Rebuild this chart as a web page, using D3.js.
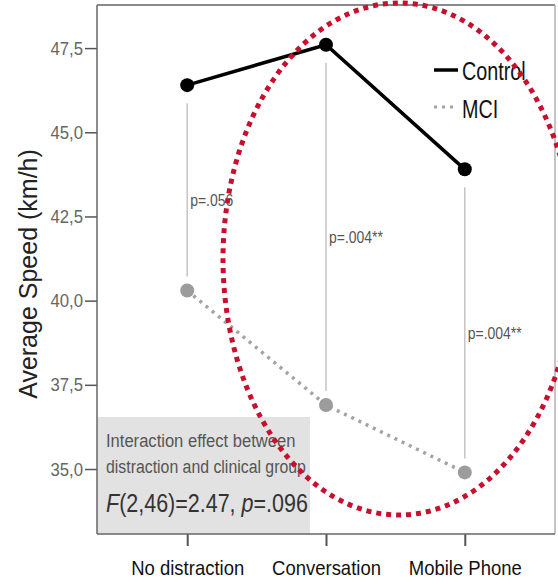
<!DOCTYPE html>
<html>
<head>
    <title>Average speed by distraction</title>
    <script src="https://cdnjs.cloudflare.com/ajax/libs/d3/7.8.5/d3.min.js"></script>
    <style>
        body { margin: 0; background: #fff; }
        text { font-family: "Liberation Sans", Arial, sans-serif; }
    </style>
</head>
<body>
    <div id="vis"></div>

    <script>
        // values
        var categories = ["No distraction", "Conversation", "Mobile Phone"];
        var control = [46.4, 47.6, 43.9];
        var mci = [40.3, 36.9, 34.9];
        var pLabels = ["p=.056", "p=.004**", "p=.004**"];
        var yTicks = [35, 37.5, 40, 42.5, 45, 47.5];
        var seriesNames = ["Control", "MCI"];

        var width = 558, height = 584;
        // plot box (don't call it "top", that's window.top)
        var m = { left: 97, right: 555, top: 5, bottom: 534 };

        var svg = d3.select("#vis").append("svg")
            .attr("width", width)
            .attr("height", height);

        var x = d3.scalePoint()
            .domain(categories)
            .range([m.left, m.right])
            .padding(0.65);

        var y = d3.scaleLinear()
            .domain([33.07, 48.78])
            .range([m.bottom, m.top]);

        // squeeze text horizontally to mimic the narrow font of the original
        function narrow(sel, k) {
            sel.each(function() {
                var w = this.getComputedTextLength();
                d3.select(this).attr("textLength", w * k).attr("lengthAdjust", "spacingAndGlyphs");
            });
        }

        // grey annotation box (behind everything)
        svg.append("rect")
            .attr("x", m.left)
            .attr("y", 417)
            .attr("width", 213)
            .attr("height", m.bottom - 417)
            .style("fill", "#e2e2e2");

        // frame top + right
        svg.append("line").attr("x1", m.left).attr("x2", m.right).attr("y1", m.top).attr("y2", m.top)
            .style("stroke", "#8a8a8a").style("stroke-width", 2);
        svg.append("line").attr("x1", m.right).attr("x2", m.right).attr("y1", m.top).attr("y2", m.bottom)
            .style("stroke", "#b0b0b0").style("stroke-width", 1.5);

        // y axis
        var yAxis = svg.append("g")
            .attr("transform", "translate(" + m.left + ",0)")
            .call(d3.axisLeft(y).tickValues(yTicks).tickSize(12).tickPadding(2)
                .tickFormat(function(d) { return d3.format(".1f")(d).replace(".", ","); }));
        yAxis.select(".domain").remove();
        yAxis.selectAll(".tick line").style("stroke", "#555").style("stroke-width", 1.5);
        yAxis.selectAll(".tick text").style("fill", "#666").style("font-size", "19px").call(narrow, 0.88);
        svg.append("line").attr("x1", m.left).attr("x2", m.left).attr("y1", m.top).attr("y2", m.bottom)
            .style("stroke", "#666").style("stroke-width", 1.5);

        // x axis
        var xAxis = svg.append("g")
            .attr("transform", "translate(0," + m.bottom + ")")
            .call(d3.axisBottom(x).tickSize(12).tickPadding(14));
        xAxis.select(".domain").remove();
        xAxis.selectAll(".tick line").style("stroke", "#555").style("stroke-width", 2);
        xAxis.selectAll(".tick text").style("fill", "#111").style("font-size", "21px").call(narrow, 0.88);
        svg.append("line").attr("x1", m.left).attr("x2", m.right).attr("y1", m.bottom).attr("y2", m.bottom)
            .style("stroke", "#666").style("stroke-width", 1.5);

        // y title
        svg.append("text")
            .attr("transform", "translate(37,274) rotate(-90)")
            .attr("text-anchor", "middle")
            .style("font-size", "25px")
            .style("fill", "#222")
            .text("Average Speed (km/h)");

        // vertical connectors between groups + p values
        var idx = d3.range(categories.length);
        svg.selectAll(".conn").data(idx).enter().append("line")
            .attr("class", "conn")
            .attr("x1", function(i) { return x(categories[i]); })
            .attr("x2", function(i) { return x(categories[i]); })
            .attr("y1", function(i) { return y(control[i]) + 18; })
            .attr("y2", function(i) { return y(mci[i]) - 14; })
            .style("stroke", "#c4c4c4")
            .style("stroke-width", 1.5);

        svg.selectAll(".plab").data(idx).enter().append("text")
            .attr("class", "plab")
            .attr("x", function(i) { return x(categories[i]) + 3; })
            .attr("y", function(i) { return (y(control[i]) + y(mci[i])) / 2 + 18; })
            .style("font-size", "17px")
            .style("fill", "#555")
            .text(function(i) { return pLabels[i]; })
            .call(narrow, 0.82);

        // lines
        var line = d3.line()
            .x(function(d, i) { return x(categories[i]); })
            .y(function(d) { return y(d); });

        svg.append("path").datum(mci)
            .attr("d", line)
            .style("fill", "none")
            .style("stroke", "#a3a3a3")
            .style("stroke-width", 3.5)
            .style("stroke-dasharray", "3 5");

        svg.append("path").datum(control)
            .attr("d", line)
            .style("fill", "none")
            .style("stroke", "#000")
            .style("stroke-width", 3.5);

        svg.selectAll(".mpt").data(mci).enter().append("circle")
            .attr("class", "mpt")
            .attr("cx", function(d, i) { return x(categories[i]); })
            .attr("cy", function(d) { return y(d); })
            .attr("r", 7)
            .style("fill", "#9c9c9c");

        svg.selectAll(".cpt").data(control).enter().append("circle")
            .attr("class", "cpt")
            .attr("cx", function(d, i) { return x(categories[i]); })
            .attr("cy", function(d) { return y(d); })
            .attr("r", 7)
            .style("fill", "#000");

        // legend
        var leg = svg.append("g").attr("transform", "translate(434,70)");
        leg.append("line").attr("x1", 0).attr("x2", 24).attr("y1", 0).attr("y2", 0)
            .style("stroke", "#000").style("stroke-width", 3.5);
        leg.append("line").attr("x1", 0).attr("x2", 24).attr("y1", 37).attr("y2", 37)
            .style("stroke", "#a3a3a3").style("stroke-width", 3).style("stroke-dasharray", "3 5");
        leg.selectAll("text").data(seriesNames).enter().append("text")
            .attr("x", 28)
            .attr("y", function(d, i) { return 10 + i * 38; })
            .style("font-size", "26px")
            .style("fill", "#111")
            .text(function(d) { return d; })
            .call(narrow, 0.76);

        // annotation text
        var note = svg.append("g").attr("transform", "translate(106,0)");
        note.append("text").attr("y", 447).style("font-size", "18px").style("fill", "#555")
            .text("Interaction effect between").call(narrow, 0.92);
        note.append("text").attr("y", 473).style("font-size", "18px").style("fill", "#555")
            .text("distraction and clinical group").call(narrow, 0.88);
        var stat = note.append("g").attr("transform", "translate(0,512) scale(0.86,1)")
            .append("text").style("font-size", "25px").style("fill", "#333");
        stat.append("tspan").style("font-style", "italic").text("F");
        stat.append("tspan").text("(2,46)=2.47, ");
        stat.append("tspan").style("font-style", "italic").text("p");
        stat.append("tspan").text("=.096");

        // red dotted highlight ellipse
        svg.append("ellipse")
            .attr("cx", 399)
            .attr("cy", 259)
            .attr("rx", 176)
            .attr("ry", 256)
            .style("fill", "none")
            .style("stroke", "#c8102e")
            .style("stroke-width", 5)
            .style("stroke-dasharray", "5 5");
    </script>
</body>
</html>
